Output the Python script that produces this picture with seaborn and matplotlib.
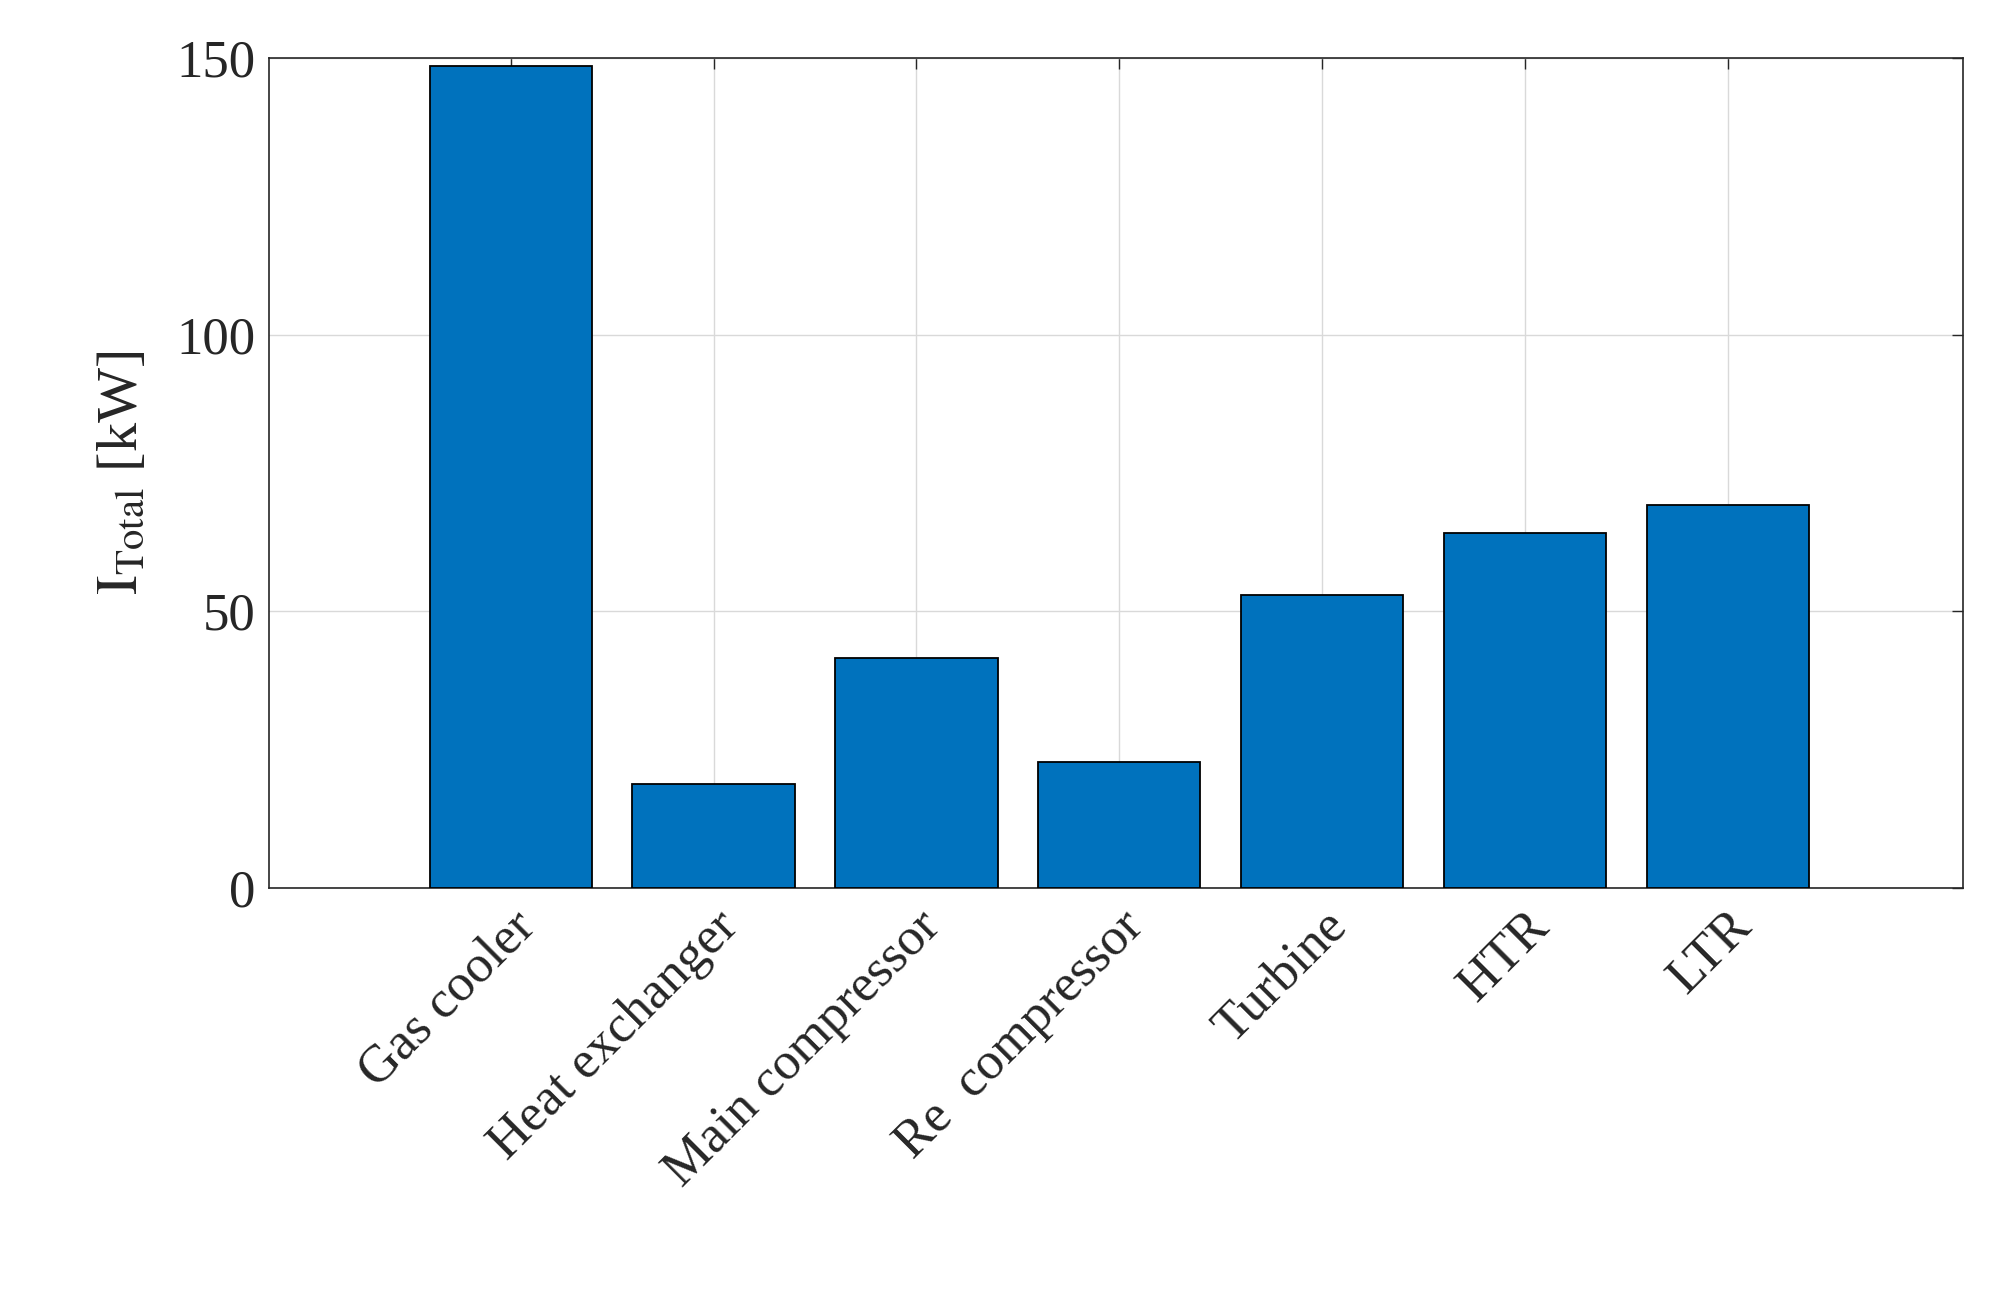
import matplotlib
matplotlib.use("Agg")
import matplotlib.pyplot as plt
import seaborn as sns
import pandas as pd

categories = ["Gas cooler", "Heat exchanger", "Main compressor", "Re  compressor", "Turbine", "HTR", "LTR"]
values = [148.6, 18.8, 41.5, 22.7, 52.9, 64.2, 69.3]

sns.set_style("white")
plt.rcParams['font.family'] = ['Liberation Serif', 'DejaVu Serif']
plt.rcParams['mathtext.fontset'] = 'stix'

df = pd.DataFrame({"cat": categories, "val": values})
fig = plt.figure(figsize=(20.01, 12.89), dpi=100)
ax = fig.add_axes([0.1346, 0.311, 0.8464, 0.644])
sns.barplot(data=df, x="cat", y="val", color="#0072BD", saturation=1, width=0.8,
            edgecolor="black", linewidth=1.3, ax=ax, zorder=3)
ax.set_xlim(-1.19, 7.16)
ax.set_ylim(0, 150)
ax.set_yticks([0, 50, 100, 150])
ax.grid(True, color="#d9d9d9", linewidth=1.0, zorder=0)
ax.set_axisbelow(True)
ax.tick_params(direction="in", top=True, right=True, length=8, width=1, labelsize=38, pad=10)
plt.setp(ax.get_xticklabels(), rotation=45, ha="right", rotation_mode="anchor")
ax.set_xlabel("")
ax.set_ylabel(r"$\mathrm{I_{Total}}$ [kW]", fontsize=42, labelpad=20)
for s in ax.spines.values():
    s.set_color("#262626"); s.set_linewidth(1.2)
fig.savefig("out.png", dpi=100)
